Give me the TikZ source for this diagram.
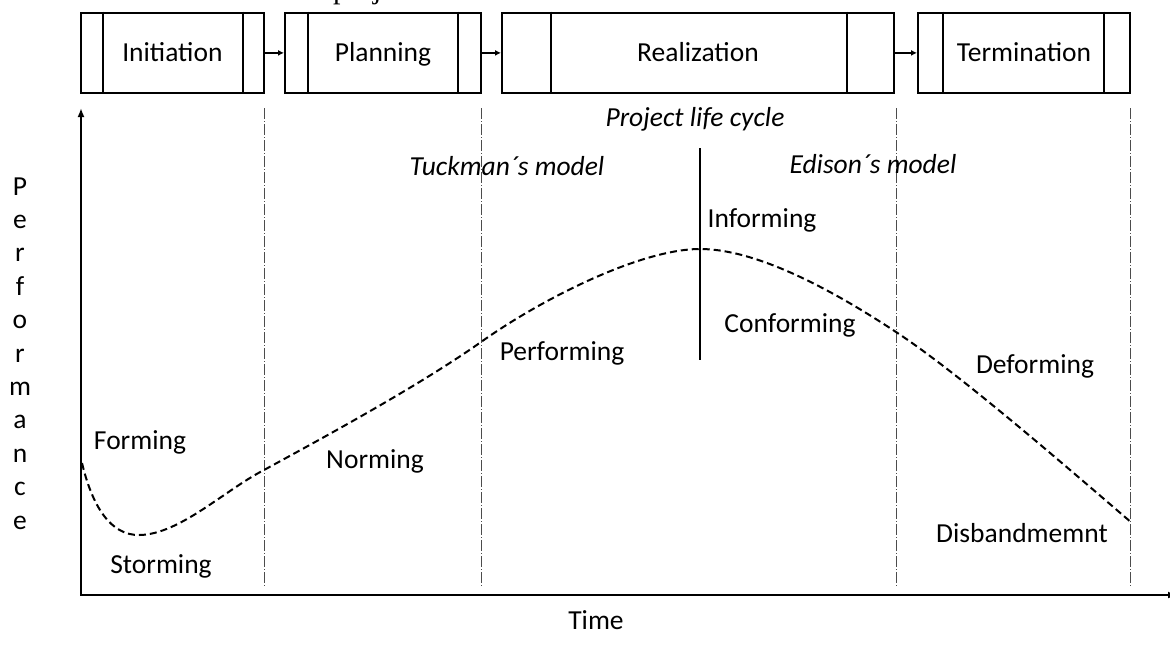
\documentclass[tikz,border=0pt]{standalone}
\usepackage{fontspec}
\setmainfont{Carlito}
\newfontfamily\fragfont{Liberation Serif}
\usetikzlibrary{arrows.meta}
\begin{document}
\begin{tikzpicture}[x=1pt,y=-1pt,
  lbl/.style={font=\fontsize{27.5}{33.4}\selectfont, anchor=base, inner sep=0pt},
  ilbl/.style={lbl, font=\fontsize{27.5}{33.4}\selectfont\itshape},
  phase/.style={draw=black, line width=2pt, minimum height=80.5pt, inner sep=0pt,
    font=\fontsize{27.5}{33.4}\selectfont, text height=18pt, text depth=0pt},
  sepline/.style={line width=1.6pt},
  flow/.style={line width=1.6pt, -{Latex[length=6pt,width=6pt]}},
  axisline/.style={line width=2.2pt, {Latex[length=9pt,width=7pt]}-{Latex[length=9pt,width=7pt]}},
  guide/.style={line width=0.9pt, draw=black!70, dash pattern=on 11pt off 2pt on 1pt off 2pt},
  curveline/.style={line width=2pt, dash pattern=on 7pt off 4pt},
]
\useasboundingbox (0,0) rectangle (1170,657);

% cut-off text at the top edge
\node[anchor=base west, inner sep=0pt, font=\fragfont\fontsize{30}{36}\selectfont] (frag) at (333,-1.5) {project};

% phase boxes
\node[phase, minimum width=183.5pt] (init) at (172.4,52.9) {Initiation};
\node[phase, minimum width=196pt]   (plan) at (383,52.9) {Planning};
\node[phase, minimum width=392pt]   (real) at (698,52.9) {Realization};
\node[phase, minimum width=212pt]   (term) at (1024,52.9) {Termination};

\draw[sepline] ([xshift=23.5pt]init.north west) -- ([xshift=23.5pt]init.south west);
\draw[sepline] ([xshift=-22pt]init.north east) -- ([xshift=-22pt]init.south east);
\draw[sepline] ([xshift=24pt]plan.north west) -- ([xshift=24pt]plan.south west);
\draw[sepline] ([xshift=-24pt]plan.north east) -- ([xshift=-24pt]plan.south east);
\draw[sepline] ([xshift=50pt]real.north west) -- ([xshift=50pt]real.south west);
\draw[sepline] ([xshift=-48pt]real.north east) -- ([xshift=-48pt]real.south east);
\draw[sepline] ([xshift=26pt]term.north west) -- ([xshift=26pt]term.south west);
\draw[sepline] ([xshift=-27pt]term.north east) -- ([xshift=-27pt]term.south east);

\draw[flow] (init.east) -- (plan.west);
\draw[flow] (plan.east) -- (real.west);
\draw[flow] (real.east) -- (term.west);

% guides
\foreach \x/\n in {264/ga,481/gb,896/gc,1130/gd}{
  \coordinate (\n t) at (\x,108);
  \coordinate (\n b) at (\x,587);
  \draw[guide] (\n t) -- (\n b);
}

% divider between models
\coordinate (divt) at (700,148);
\coordinate (divb) at (700,360);
\draw[line width=1.2pt] (divt) -- (divb);

% axes
\coordinate (ytop) at (81,108);
\coordinate (orig) at (81,595);
\coordinate (xend) at (1177,595);
\draw[axisline] (ytop) -- (orig) -- (xend);

% performance curve
\draw[curveline] (82,463)
  .. controls (92,505) and (110,536) .. (140,535)
  .. controls (180,534) and (225,490) .. (264,470)
  .. controls (330,434) and (420,385) .. (481,342)
  .. controls (540,300) and (640,249) .. (700,249)
  .. controls (760,249) and (840,295) .. (896,332)
  .. controls (960,374) and (1070,470) .. (1132,523);

% axis labels
\foreach \c [count=\i from 0] in {P,e,r,f,o,r,m,a,n,c,e}
  \node[lbl] (perf\i) at (20,195+33.4*\i) {\c};
\node[lbl] (time) at (596,629) {Time};

% model labels
\node[ilbl] (plc) at (695,126) {Project life cycle};
\node[ilbl] (tuck) at (507,175) {Tuckman´s model};
\node[ilbl] (edis) at (873,173) {Edison´s model};

% stage labels
\node[lbl] (inform) at (762,227) {Informing};
\node[lbl] (conform) at (790,332) {Conforming};
\node[lbl] (perform) at (562,360) {Performing};
\node[lbl] (deform) at (1035,373) {Deforming};
\node[lbl] (form) at (140,449) {Forming};
\node[lbl] (norm) at (375,468) {Norming};
\node[lbl] (storm) at (161,573) {Storming};
\node[lbl] (disb) at (1022,542) {Disbandmemnt};
\end{tikzpicture}
\end{document}
